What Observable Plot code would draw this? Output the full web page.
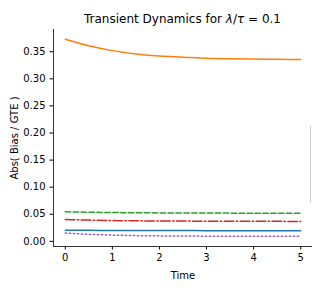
<!DOCTYPE html>
<html><head><meta charset="utf-8">
<script src="https://cdn.jsdelivr.net/npm/d3@7"></script>
<script src="https://cdn.jsdelivr.net/npm/@observablehq/plot@0.6"></script>
<style>
body{margin:0;background:#fff;font-family:"DejaVu Sans",sans-serif;}
#wrap{position:relative;width:312px;height:288px;}
#legendEdge{position:absolute;left:310px;top:126px;width:2px;height:77px;border-left:1px solid #d0d0d0;}
</style></head>
<body><div id="wrap"><div id="legendEdge"></div></div>
<script>
const times = [0, 0.5, 1, 1.5, 2, 2.5, 3, 3.5, 4, 4.5, 5];
const orangeVals = [0.373, 0.361, 0.352, 0.346, 0.342, 0.340, 0.338, 0.337, 0.3365, 0.336, 0.3355];
const greenVals  = [0.0546, 0.0538, 0.0532, 0.0528, 0.0525, 0.0523, 0.0522, 0.0521, 0.052, 0.052, 0.052];
const redVals    = [0.0404, 0.0392, 0.0384, 0.0379, 0.0376, 0.0374, 0.0372, 0.0371, 0.037, 0.0369, 0.0368];
const blueVals   = [0.0205, 0.0203, 0.0201, 0.0200, 0.0199, 0.0199, 0.0198, 0.0198, 0.0198, 0.0198, 0.0198];
const purpleVals = [0.0153, 0.0130, 0.0115, 0.0106, 0.0101, 0.0098, 0.0096, 0.0095, 0.0094, 0.0093, 0.0092];
const xTicks = [0, 1, 2, 3, 4, 5];
const yTicks = [0, 0.05, 0.10, 0.15, 0.20, 0.25, 0.30, 0.35];

const series = [
  {vals: blueVals, color: "#1f77b4", dash: null},
  {vals: orangeVals, color: "#ff7f0e", dash: null},
  {vals: greenVals, color: "#2ca02c", dash: "5.5,2.4"},
  {vals: redVals, color: "#d62728", dash: "9.6,2.4,1.5,2.4"},
  {vals: purpleVals, color: "#9467bd", dash: "1.5,2.5"}
];

const marks = series.map(s => Plot.line(times.map((t, i) => ({t, v: s.vals[i]})), {
  x: "t", y: "v", stroke: s.color, strokeWidth: 1.5, strokeDasharray: s.dash, curve: "monotone-x"
}));

const chart = Plot.plot({
  width: 312, height: 288,
  marginLeft: 53, marginRight: 0, marginTop: 29, marginBottom: 42,
  style: {fontFamily: "DejaVu Sans, sans-serif", fontSize: "10px", color: "#000", background: "#fff"},
  x: {domain: [-0.25, 5.25], ticks: xTicks, tickFormat: d3.format("d")},
  y: {domain: [-0.0095, 0.391], ticks: yTicks, tickFormat: d3.format(".2f")},
  marks: [
    Plot.axisX({ticks: xTicks, tickFormat: d3.format("d"), tickSize: 3.5, tickPadding: 3.5, label: "Time", labelAnchor: "center", labelArrow: "none", labelOffset: 32, fontSize: 10}),
    Plot.axisY({ticks: yTicks, tickFormat: d3.format(".2f"), tickSize: 3.5, tickPadding: 4.5, label: "Abs( Bias / GTE )", labelAnchor: "center", labelArrow: "none", labelOffset: 43, fontSize: 10}),
    Plot.ruleX([-0.25], {stroke: "#000", strokeWidth: 0.8}),
    Plot.ruleY([-0.0095], {stroke: "#000", strokeWidth: 0.8}),
    ...marks
  ]
});
document.getElementById("wrap").prepend(chart);
chart.style.display = "block";

const svg = d3.select(chart);
const title = svg.append("text")
  .attr("x", 182.5).attr("y", 23)
  .attr("text-anchor", "middle")
  .attr("font-size", 12).attr("fill", "#000")
  .attr("font-family", "DejaVu Sans, sans-serif");
title.append("tspan").text("Transient Dynamics for ");
title.append("tspan").attr("font-style", "italic").text("λ");
title.append("tspan").text("/");
title.append("tspan").attr("font-style", "italic").text("τ");
title.append("tspan").text(" = 0.1");
</script>
</body></html>
